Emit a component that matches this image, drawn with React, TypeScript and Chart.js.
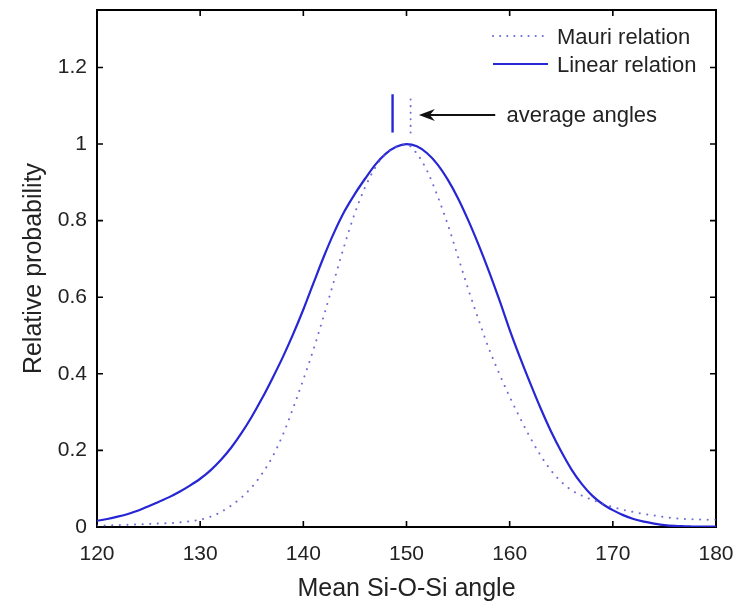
import React, { useEffect, useRef } from "react";
import { Chart, registerables } from "chart.js";

Chart.register(...registerables);

// ---- data ----
const angles: number[] = [
  120, 121, 122, 123, 124, 125, 126, 127, 128, 129,
  130, 131, 132, 133, 134, 135, 136, 137, 138, 139,
  140, 141, 142, 143, 144, 145, 146, 147, 148, 149,
  150, 151, 152, 153, 154, 155, 156, 157, 158, 159,
  160, 161, 162, 163, 164, 165, 166, 167, 168, 169,
  170, 171, 172, 173, 174, 175, 176, 177, 178, 179, 180,
];

const linearRelation: number[] = [
  0.016, 0.021, 0.027, 0.034, 0.043, 0.054, 0.066, 0.078, 0.092, 0.108,
  0.126, 0.148, 0.175, 0.207, 0.245, 0.288, 0.336, 0.388, 0.443, 0.503,
  0.568, 0.638, 0.707, 0.77, 0.825, 0.87, 0.91, 0.947, 0.975, 0.993,
  1.0, 0.994, 0.976, 0.947, 0.907, 0.858, 0.8, 0.736, 0.667, 0.593,
  0.515, 0.443, 0.375, 0.31, 0.25, 0.197, 0.15, 0.112, 0.082, 0.06,
  0.044, 0.031, 0.021, 0.014, 0.009, 0.005, 0.003, 0.002, 0.001, 0.001, 0.001,
];

const mauriRelation: number[] = [
  0.004, 0.004, 0.005, 0.006, 0.007, 0.008, 0.009, 0.01, 0.012, 0.015,
  0.019, 0.027, 0.039, 0.056, 0.077, 0.104, 0.139, 0.183, 0.24, 0.31,
  0.385, 0.465, 0.553, 0.645, 0.737, 0.82, 0.888, 0.94, 0.975, 0.993,
  0.999, 0.975, 0.93, 0.865, 0.79, 0.705, 0.62, 0.54, 0.465, 0.4,
  0.34, 0.285, 0.233, 0.187, 0.148, 0.118, 0.096, 0.082, 0.071, 0.061,
  0.052, 0.045, 0.039, 0.034, 0.03, 0.026, 0.023, 0.021, 0.02, 0.019, 0.019,
];

// average angle markers
const avgLinear = 148.65;
const avgMauri = 150.4;
const markerRange: number[] = [1.03, 1.13];

const xTicks: number[] = [120, 130, 140, 150, 160, 170, 180];
const xTickLabels: string[] = ["120", "130", "140", "150", "160", "170", "180"];
const yTicks: number[] = [0, 0.2, 0.4, 0.6, 0.8, 1, 1.2];
const yTickLabels: string[] = ["0", "0.2", "0.4", "0.6", "0.8", "1", "1.2"];

const legendLabels: string[] = ["Mauri relation", "Linear relation"];
const annotationText = "average angles";
const xTitle = "Mean Si-O-Si angle";
const yTitle = "Relative probability";

const FONT = "'Liberation Sans', Arial, Helvetica, sans-serif";
const SOLID = "#2626d4";
const DOTTED = "rgba(85,85,205,0.85)";

const decorPlugin = {
  id: "decor",
  beforeDatasetsDraw(chart: any) {
    const { ctx, chartArea, scales } = chart;
    const { left, right, top, bottom } = chartArea;
    const x = scales.x;
    const y = scales.y;
    ctx.save();
    ctx.strokeStyle = "#000";
    ctx.lineWidth = 2;
    ctx.strokeRect(left, top, right - left, bottom - top);
    ctx.lineWidth = 1.6;
    ctx.beginPath();
    for (const v of xTicks) {
      const px = x.getPixelForValue(v);
      ctx.moveTo(px, bottom);
      ctx.lineTo(px, bottom - 6);
      ctx.moveTo(px, top);
      ctx.lineTo(px, top + 6);
    }
    for (const v of yTicks) {
      const py = y.getPixelForValue(v);
      ctx.moveTo(left, py);
      ctx.lineTo(left + 6, py);
      ctx.moveTo(right, py);
      ctx.lineTo(right - 6, py);
    }
    ctx.stroke();
    ctx.restore();
  },
  afterDatasetsDraw(chart: any) {
    const { ctx, chartArea, scales } = chart;
    const { right, top } = chartArea;
    const x = scales.x;
    const y = scales.y;
    ctx.save();
    // legend
    const sx0 = right - 223;
    const sx1 = right - 168;
    const tx = right - 159;
    const ly = [top + 26, top + 54];
    ctx.lineCap = "round";
    ctx.strokeStyle = DOTTED;
    ctx.lineWidth = 2;
    ctx.setLineDash([0.1, 7]);
    ctx.beginPath();
    ctx.moveTo(sx0, ly[0]);
    ctx.lineTo(sx1, ly[0]);
    ctx.stroke();
    ctx.setLineDash([]);
    ctx.lineCap = "butt";
    ctx.strokeStyle = SOLID;
    ctx.lineWidth = 2.2;
    ctx.beginPath();
    ctx.moveTo(sx0, ly[1]);
    ctx.lineTo(sx1, ly[1]);
    ctx.stroke();
    ctx.fillStyle = "#222";
    ctx.font = `22px ${FONT}`;
    ctx.textAlign = "left";
    ctx.textBaseline = "middle";
    ctx.fillText(legendLabels[0], tx, ly[0] + 2);
    ctx.fillText(legendLabels[1], tx, ly[1] + 2);

    // arrow + annotation text
    const ay = y.getPixelForValue(1.076);
    const tipX = x.getPixelForValue(151.2);
    const tailX = x.getPixelForValue(158.6);
    ctx.strokeStyle = "#111";
    ctx.lineWidth = 2;
    ctx.beginPath();
    ctx.moveTo(tailX, ay);
    ctx.lineTo(tipX + 10, ay);
    ctx.stroke();
    ctx.fillStyle = "#111";
    ctx.beginPath();
    ctx.moveTo(tipX, ay);
    ctx.lineTo(tipX + 16, ay - 6);
    ctx.lineTo(tipX + 11, ay);
    ctx.lineTo(tipX + 16, ay + 6);
    ctx.closePath();
    ctx.fill();
    ctx.fillStyle = "#222";
    ctx.fillText(annotationText, x.getPixelForValue(159.7), ay + 1);
    ctx.restore();
  },
};

export default function App() {
  const ref = useRef<HTMLCanvasElement | null>(null);

  useEffect(() => {
    if (!ref.current) return;
    Chart.defaults.font.family = FONT;
    Chart.defaults.color = "#222";
    const toPts = (vals: number[]) => angles.map((a, i) => ({ x: a, y: vals[i] }));
    const chart = new Chart(ref.current, {
      type: "line",
      data: {
        datasets: [
          {
            label: legendLabels[0],
            data: toPts(mauriRelation),
            borderColor: DOTTED,
            borderWidth: 2,
            borderDash: [0.1, 7.5],
            borderCapStyle: "round",
            pointRadius: 0,
            cubicInterpolationMode: "monotone",
            fill: false,
          },
          {
            label: legendLabels[1],
            data: toPts(linearRelation),
            borderColor: SOLID,
            borderWidth: 2.2,
            pointRadius: 0,
            cubicInterpolationMode: "monotone",
            fill: false,
          },
          {
            label: "avg linear",
            data: markerRange.map((v) => ({ x: avgLinear, y: v })),
            borderColor: SOLID,
            borderWidth: 2.4,
            pointRadius: 0,
          },
          {
            label: "avg mauri",
            data: markerRange.map((v) => ({ x: avgMauri, y: v })),
            borderColor: DOTTED,
            borderWidth: 2,
            borderDash: [0.1, 6.5],
            borderCapStyle: "round",
            pointRadius: 0,
          },
        ],
      },
      options: {
        animation: false,
        responsive: false,
        maintainAspectRatio: false,
        layout: { padding: { left: 0, right: 26, top: 10, bottom: 0 } },
        plugins: {
          legend: { display: false },
          tooltip: { enabled: false },
        },
        scales: {
          x: {
            type: "linear",
            min: 120,
            max: 180,
            grid: { display: false, drawTicks: false },
            border: { display: false },
            afterBuildTicks: (s: any) => {
              s.ticks = xTicks.map((v) => ({ value: v }));
            },
            afterFit: (s: any) => {
              s.height = 78;
              s.paddingLeft = 0;
              s.paddingRight = 0;
              s.paddingTop = 0;
              s.paddingBottom = 0;
            },
            ticks: {
              padding: 15,
              maxRotation: 0,
              autoSkip: false,
              font: { size: 21 },
              color: "#222",
              callback: (_v: any, i: number) => xTickLabels[i],
            },
            title: {
              display: true,
              text: xTitle,
              font: { size: 25 },
              color: "#222",
              padding: { top: 0, bottom: 1 },
            },
          },
          y: {
            type: "linear",
            min: 0,
            max: 1.35,
            grid: { display: false, drawTicks: false },
            border: { display: false },
            afterBuildTicks: (s: any) => {
              s.ticks = yTicks.map((v) => ({ value: v }));
            },
            afterFit: (s: any) => {
              s.width = 97;
              s.paddingLeft = 0;
              s.paddingRight = 0;
              s.paddingTop = 0;
              s.paddingBottom = 0;
            },
            ticks: {
              padding: 10,
              autoSkip: false,
              font: { size: 21 },
              color: "#222",
              callback: (_v: any, i: number) => yTickLabels[i],
            },
            title: {
              display: true,
              text: yTitle,
              font: { size: 25 },
              color: "#222",
              padding: { top: 19, bottom: 0 },
            },
          },
        },
      },
      plugins: [decorPlugin],
    } as any);
    return () => chart.destroy();
  }, []);

  return (
    <div style={{ position: "absolute", left: 0, top: 0, width: 742, height: 605, background: "#fff" }}>
      <canvas ref={ref} width={742} height={605} style={{ display: "block" }} />
    </div>
  );
}
